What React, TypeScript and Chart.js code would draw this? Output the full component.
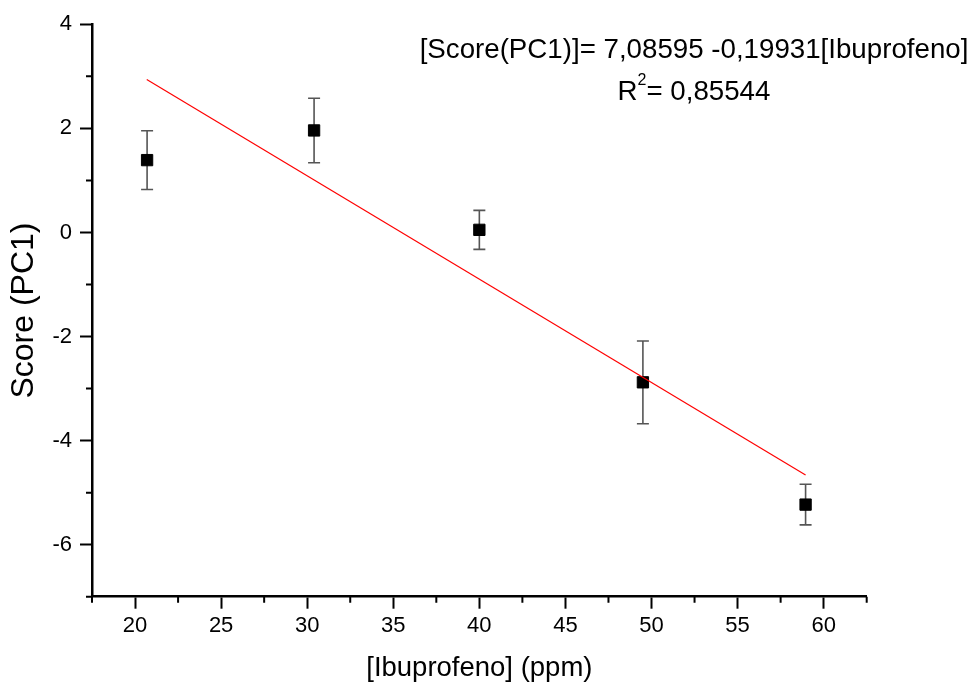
import React, { useEffect, useRef } from "react";
import { Chart, registerables } from "chart.js";

Chart.register(...registerables);

const ibuprofeno = [20.7, 30.4, 40.0, 49.5, 58.95];
const score = [1.39, 1.96, 0.05, -2.88, -5.23];
const scoreError = [0.565, 0.62, 0.375, 0.795, 0.39];

const fitX = [20.68, 58.95];
const fitY = [2.94, -4.66];

const xTickValues = [20, 25, 30, 35, 40, 45, 50, 55, 60];
const xMinorValues = [17.5, 22.5, 27.5, 32.5, 37.5, 42.5, 47.5, 52.5, 57.5, 62.5];
const yTickValues = [-6, -4, -2, 0, 2, 4];
const yMinorValues = [-7, -5, -3, -1, 1, 3];

const equationText = "[Score(PC1)]= 7,08595 -0,19931[Ibuprofeno]";
const r2Prefix = "R";
const r2Sup = "2";
const r2Rest = "= 0,85544";

const FONT = '"Liberation Sans", Arial, sans-serif';

const errorBarPlugin = {
  id: "errorBars",
  beforeDatasetsDraw(chart: any) {
    const { ctx, scales } = chart;
    const x = scales.x;
    const y = scales.y;
    ctx.save();
    ctx.strokeStyle = "#555555";
    ctx.lineWidth = 1.6;
    for (let i = 0; i < ibuprofeno.length; i++) {
      const px = x.getPixelForValue(ibuprofeno[i]);
      const top = y.getPixelForValue(score[i] + scoreError[i]);
      const bot = y.getPixelForValue(score[i] - scoreError[i]);
      ctx.beginPath();
      ctx.moveTo(px, top);
      ctx.lineTo(px, bot);
      ctx.moveTo(px - 6, top);
      ctx.lineTo(px + 6, top);
      ctx.moveTo(px - 6, bot);
      ctx.lineTo(px + 6, bot);
      ctx.stroke();
    }
    ctx.restore();
  },
};

const minorTickPlugin = {
  id: "minorTicks",
  afterDraw(chart: any) {
    const { ctx, scales, chartArea } = chart;
    ctx.save();
    ctx.strokeStyle = "#000";
    ctx.lineWidth = 2;
    ctx.beginPath();
    for (const v of xMinorValues) {
      const px = scales.x.getPixelForValue(v);
      ctx.moveTo(px, chartArea.bottom);
      ctx.lineTo(px, chartArea.bottom + 6);
    }
    for (const v of yMinorValues) {
      const py = scales.y.getPixelForValue(v);
      ctx.moveTo(chartArea.left, py);
      ctx.lineTo(chartArea.left - 6, py);
    }
    ctx.stroke();
    ctx.restore();
  },
};

const annotationPlugin = {
  id: "equation",
  afterDraw(chart: any) {
    const { ctx } = chart;
    const cx = 694;
    ctx.save();
    ctx.fillStyle = "#000";
    ctx.textBaseline = "middle";
    ctx.font = `27.7px ${FONT}`;
    ctx.textAlign = "center";
    ctx.fillText(equationText, cx, 50);
    ctx.textAlign = "left";
    const big = `27.7px ${FONT}`;
    const small = `16px ${FONT}`;
    ctx.font = big;
    const wR = ctx.measureText(r2Prefix).width;
    const wRest = ctx.measureText(r2Rest).width;
    ctx.font = small;
    const wSup = ctx.measureText(r2Sup).width;
    const total = wR + wSup + wRest;
    let sx = cx - total / 2;
    const ly = 92;
    ctx.font = big;
    ctx.fillText(r2Prefix, sx, ly);
    sx += wR;
    ctx.font = small;
    ctx.fillText(r2Sup, sx, ly - 11);
    sx += wSup;
    ctx.font = big;
    ctx.fillText(r2Rest, sx, ly);
    ctx.restore();
  },
};

export default function App() {
  const canvasRef = useRef<HTMLCanvasElement | null>(null);

  useEffect(() => {
    if (!canvasRef.current) return;
    const chart = new Chart(canvasRef.current, {
      type: "scatter",
      data: {
        datasets: [
          {
            label: "Fit",
            data: fitX.map((v, i) => ({ x: v, y: fitY[i] })),
            showLine: true,
            borderColor: "#ff0000",
            borderWidth: 1.2,
            pointRadius: 0,
            pointHoverRadius: 0,
            fill: false,
          },
          {
            label: "Score",
            data: ibuprofeno.map((v, i) => ({ x: v, y: score[i] })),
            pointStyle: "rect",
            pointRadius: 8,
            pointHoverRadius: 8,
            backgroundColor: "#000",
            borderColor: "#000",
            borderWidth: 1,
            showLine: false,
          },
        ],
      },
      options: {
        responsive: false,
        animation: false,
        events: [],
        layout: {
          padding: { left: 0, top: 24.3, right: 108.3, bottom: 0 },
        },
        plugins: {
          legend: { display: false },
          tooltip: { enabled: false },
          title: { display: false },
        },
        scales: {
          x: {
            type: "linear",
            position: "bottom",
            min: 17.5,
            max: 62.5,
            afterBuildTicks: (scale: any) => {
              scale.ticks = xTickValues.map((v) => ({ value: v }));
            },
            afterFit: (scale: any) => {
              scale.height = 87.3;
            },
            border: { display: true, color: "#000", width: 2.5 },
            grid: {
              drawOnChartArea: false,
              drawTicks: true,
              tickLength: 12,
              tickWidth: 2,
              tickColor: "#000",
            },
            ticks: {
              color: "#000",
              font: { family: FONT, size: 22 },
              padding: 4,
              maxRotation: 0,
              autoSkip: false,
              callback: (v: any) => String(v),
            },
            title: {
              display: true,
              text: "[Ibuprofeno] (ppm)",
              color: "#000",
              font: { family: FONT, size: 27.5, lineHeight: 1 },
              padding: { top: 0, bottom: 1.5 },
            },
          },
          y: {
            type: "linear",
            position: "left",
            min: -7,
            max: 4,
            afterBuildTicks: (scale: any) => {
              scale.ticks = yTickValues.map((v) => ({ value: v }));
            },
            afterFit: (scale: any) => {
              scale.width = 92;
            },
            border: { display: true, color: "#000", width: 2.5 },
            grid: {
              drawOnChartArea: false,
              drawTicks: true,
              tickLength: 12,
              tickWidth: 2,
              tickColor: "#000",
            },
            ticks: {
              color: "#000",
              font: { family: FONT, size: 22 },
              padding: 8,
              autoSkip: false,
              callback: (v: any) => String(v),
            },
            title: {
              display: true,
              text: "Score (PC1)",
              color: "#000",
              font: { family: FONT, size: 32, lineHeight: 1 },
              padding: { top: 8, bottom: 0 },
            },
          },
        },
      },
      plugins: [errorBarPlugin, minorTickPlugin, annotationPlugin],
    } as any);
    return () => chart.destroy();
  }, []);

  return (
    <div style={{ position: "fixed", left: 0, top: 0, width: 975, height: 684, background: "#fff" }}>
      <canvas ref={canvasRef} width={975} height={684} style={{ display: "block" }} />
    </div>
  );
}
